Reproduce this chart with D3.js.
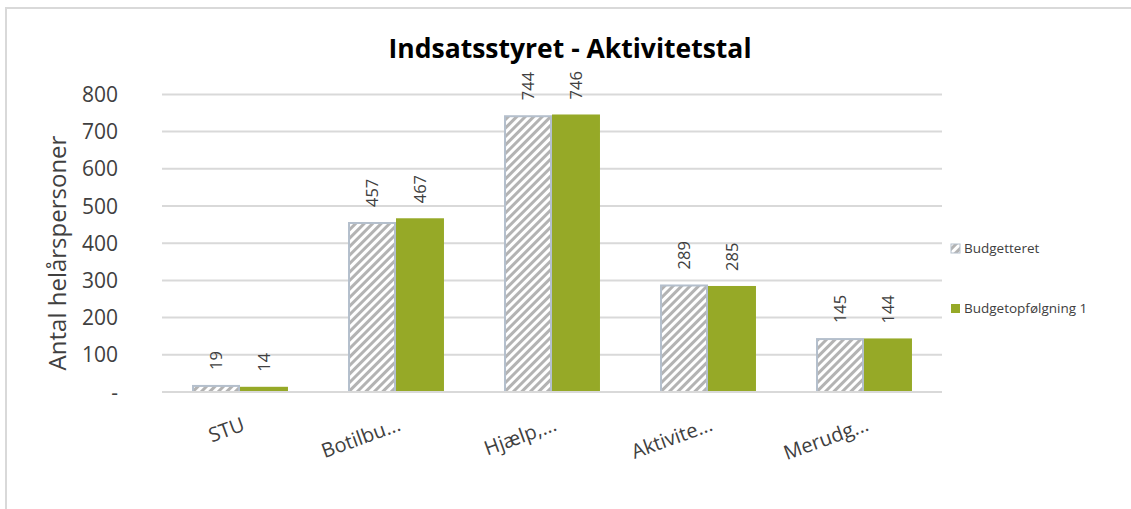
<!DOCTYPE html>
<html>
<head>
<meta charset="utf-8">
<script src="https://cdn.jsdelivr.net/npm/d3@7"></script>
<style>
  body { margin: 0; background: #fff; }
  svg text { font-family: "Open Sans", sans-serif; }
</style>
</head>
<body>
<div id="chart"></div>
<script>
// data
const categories = ["STU", "Botilbu...", "Hjælp,...", "Aktivite...", "Merudg..."];
const seriesNames = ["Budgetteret", "Budgetopfølgning 1"];
const budgetteret = [19, 457, 744, 289, 145];
const budgetopf = [14, 467, 746, 285, 144];
const yTicks = [0, 100, 200, 300, 400, 500, 600, 700, 800];

const width = 1131, height = 509;
const plot = { left: 162, right: 942, top: 57, bottom: 392 };
const green = "#96a927";

const svg = d3.select("#chart")
    .append("svg")
    .attr("width", width)
    .attr("height", height);

// hatch pattern for the Budgetteret bars
const defs = svg.append("defs");
const pat = defs.append("pattern")
    .attr("id", "hatch")
    .attr("patternUnits", "userSpaceOnUse")
    .attr("width", 6)
    .attr("height", 6)
    .attr("patternTransform", "rotate(45)");
pat.append("rect").attr("width", 6).attr("height", 6).attr("fill", "#ffffff");
pat.append("rect").attr("width", 3).attr("height", 6).attr("fill", "#b3b3b3");

// outer frame
svg.append("rect")
    .attr("x", 6).attr("y", 8)
    .attr("width", width + 10).attr("height", height + 10)
    .attr("fill", "none")
    .attr("stroke", "#d9d9d9")
    .attr("stroke-width", 2);

const y = d3.scaleLinear().domain([0, 900]).range([plot.bottom, plot.bottom - 9 * 37.2]);
const x = d3.scaleBand().domain(categories).range([plot.left, plot.right]).paddingInner(0.385).paddingOuter(0.1925);
const xs = d3.scaleBand().domain(seriesNames).range([0, x.bandwidth()]);

// gridlines
svg.append("g")
    .selectAll("line")
    .data(yTicks.slice(1))
    .join("line")
    .attr("x1", plot.left).attr("x2", plot.right)
    .attr("y1", d => y(d)).attr("y2", d => y(d))
    .attr("stroke", "#d9d9d9")
    .attr("stroke-width", 2);

// y tick labels
svg.append("g")
    .selectAll("text")
    .data(yTicks)
    .join("text")
    .attr("x", 118)
    .attr("y", d => y(d))
    .attr("dy", "0.36em")
    .attr("text-anchor", "end")
    .attr("fill", "#404040")
    .style("font-size", "21px")
    .text(d => d === 0 ? "-" : d);

// y axis title
svg.append("text")
    .attr("transform", "translate(66, 253) rotate(-90)")
    .attr("text-anchor", "middle")
    .attr("fill", "#404040")
    .style("font-size", "24px")
    .text("Antal helårspersoner");

// title
svg.append("text")
    .attr("x", 570)
    .attr("y", 58)
    .attr("text-anchor", "middle")
    .attr("fill", "#000")
    .style("font-size", "26.5px")
    .style("font-weight", "bold")
    .text("Indsatsstyret - Aktivitetstal");

const rows = categories.map((c, i) => ({ cat: c, vals: [budgetteret[i], budgetopf[i]] }));

const groups = svg.append("g")
    .selectAll("g")
    .data(rows)
    .join("g")
    .attr("transform", d => `translate(${x(d.cat)},0)`);

groups.selectAll("rect")
    .data(d => d.vals.map((v, j) => ({ name: seriesNames[j], v: v })))
    .join("rect")
    .attr("x", d => xs(d.name) + (d.name === seriesNames[0] ? 1 : 0))
    .attr("y", d => y(d.v) + (d.name === seriesNames[0] ? 1 : 0))
    .attr("width", d => xs.bandwidth() - (d.name === seriesNames[0] ? 2 : 0))
    .attr("height", d => y(0) - y(d.v) - (d.name === seriesNames[0] ? 1 : 0))
    .attr("fill", d => d.name === seriesNames[0] ? "url(#hatch)" : green)
    .attr("stroke", d => d.name === seriesNames[0] ? "#b4bfcc" : "none")
    .attr("stroke-width", 2);

// value labels, rotated
groups.selectAll("text")
    .data(d => d.vals.map((v, j) => ({ name: seriesNames[j], v: v })))
    .join("text")
    .attr("transform", d => `translate(${xs(d.name) + xs.bandwidth() / 2 + 6}, ${y(d.v) - 15}) rotate(-90)`)
    .attr("text-anchor", "start")
    .attr("fill", "#404040")
    .style("font-size", "16.5px")
    .text(d => d.v);

// baseline
svg.append("line")
    .attr("x1", plot.left).attr("x2", plot.right)
    .attr("y1", y(0)).attr("y2", y(0))
    .attr("stroke", "#d9d9d9")
    .attr("stroke-width", 2);

// x labels, slanted
svg.append("g")
    .selectAll("text")
    .data(categories)
    .join("text")
    .attr("transform", d => `translate(${x(d) + x.bandwidth() / 2 + 6}, 430) rotate(-20)`)
    .attr("text-anchor", "end")
    .attr("fill", "#404040")
    .style("font-size", "20px")
    .text(d => d);

// legend
const legend = svg.append("g")
    .selectAll("g")
    .data(seriesNames)
    .join("g")
    .attr("transform", (d, i) => `translate(950, ${248 + i * 60})`);

legend.append("rect")
    .attr("x", 1).attr("y", -4)
    .attr("width", 9).attr("height", 9)
    .attr("fill", (d, i) => i === 0 ? "url(#hatch)" : green)
    .attr("stroke", (d, i) => i === 0 ? "#b4bfcc" : "none")
    .attr("stroke-width", 1);

legend.append("text")
    .attr("x", 14)
    .attr("y", 0)
    .attr("dy", "0.35em")
    .attr("fill", "#404040")
    .style("font-size", "13.5px")
    .text(d => d);
</script>
</body>
</html>
